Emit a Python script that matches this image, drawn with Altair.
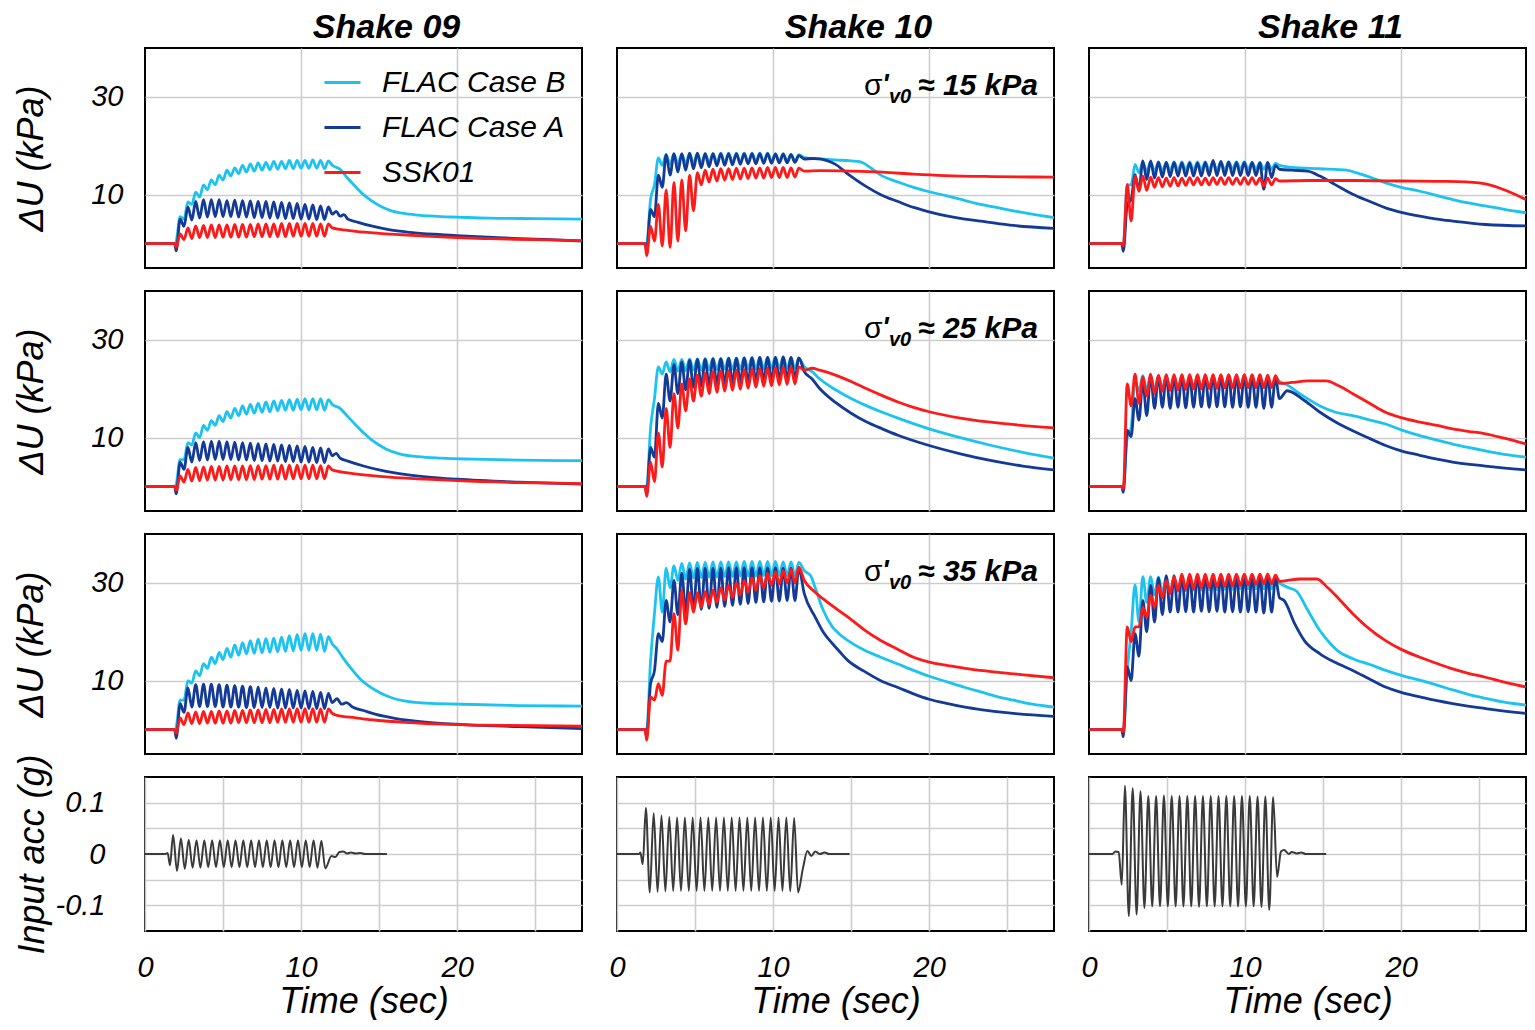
import altair as alt
import pandas as pd

FONT = "Liberation Sans"
GRID = "#cdcdcd"

SHAKES = ["Shake 09", "Shake 10", "Shake 11"]
STRESS_TEXT = ["≈ 15 kPa", "≈ 25 kPa", "≈ 35 kPa"]
SERIES = ["FLAC Case B", "FLAC Case A", "SSK01"]
COLORS = ["#1cc3f1", "#123a96", "#ff1a1a"]
ACC_COLOR = "#3a3a3a"

T_DOMAIN = [0, 28]
DU_DOMAIN = [-5, 40]
ACC_DOMAIN = [-0.15, 0.15]
DU_TICKS = [10, 30]
DU_XGRID = [10, 20]
ACC_TICKS = [-0.1, -0.05, 0, 0.05, 0.1]
ACC_XTICKS = [0, 5, 10, 15, 20, 25]

# time offsets of successive half-cycle extremes (20 cycles, 2 Hz)
OSC_DT = [0.0, 0.25, 0.5, 0.75, 1.0, 1.25, 1.5, 1.75, 2.0, 2.25,
          2.5, 2.75, 3.0, 3.25, 3.5, 3.75, 4.0, 4.25, 4.5, 4.75,
          5.0, 5.25, 5.5, 5.75, 6.0, 6.25, 6.5, 6.75, 7.0, 7.25,
          7.5, 7.75, 8.0, 8.25, 8.5, 8.75, 9.0, 9.25, 9.5, 9.75]
DU_START = [2.0, 1.9, 2.2]
ACC_START = [1.8, 1.85, 2.3]
DU_PRE = [[(0.0, 0.0), (1.9, 0.0)], [(0.0, 0.0), (1.8, 0.0)], [(0.0, 0.0), (2.1, 0.0)]]

# ---------------- Shake 09 ----------------
S09_15_B = dict(osc=[0.5, 5.5, 5.0, 8.5, 8.0, 10.5, 9.5, 12.0, 11.0, 13.0, 12.0, 14.0, 13.0, 15.0, 13.8, 15.5, 14.3, 16.0, 14.6, 16.3,
                     14.8, 16.5, 15.0, 16.6, 15.1, 16.8, 15.2, 16.8, 15.3, 17.0, 15.3, 17.0, 15.4, 17.0, 15.4, 17.1, 15.4, 17.0, 15.3, 16.9],
                post=[(12.0, 16.0), (12.5, 15.2), (13.0, 13.3), (13.5, 11.6), (14.0, 10.0), (14.5, 8.8), (15.0, 7.8), (15.7, 6.8),
                      (16.5, 6.2), (17.5, 5.8), (19.0, 5.5), (20.0, 5.4), (22.0, 5.2), (25.0, 5.1), (28.0, 5.0)])
S09_15_A = dict(osc=[-1.5, 5.0, 3.5, 7.5, 4.8, 8.6, 5.2, 9.0, 5.4, 9.0, 5.5, 9.0, 5.5, 8.8, 5.5, 8.9, 5.4, 8.8, 5.4, 8.7,
                     5.3, 8.6, 5.3, 8.6, 5.2, 8.5, 5.2, 8.4, 5.1, 8.3, 5.1, 8.2, 5.0, 8.0, 5.0, 7.9, 4.9, 7.7, 4.9, 7.5],
                post=[(12.0, 6.0), (12.25, 6.6), (12.5, 5.6), (12.75, 5.9), (13.0, 5.0), (13.6, 4.4), (14.5, 3.6), (15.7, 2.8),
                      (17.0, 2.3), (18.5, 1.9), (20.0, 1.6), (22.0, 1.3), (24.0, 1.0), (26.0, 0.8), (28.0, 0.5)])
S09_15_R = dict(osc=[-0.8, 2.0, 0.8, 3.2, 1.0, 3.6, 1.2, 3.7, 1.2, 3.8, 1.2, 3.8, 1.3, 3.8, 1.3, 3.9, 1.3, 3.9, 1.3, 3.9,
                     1.4, 4.0, 1.4, 4.0, 1.4, 4.0, 1.4, 4.1, 1.4, 4.1, 1.5, 4.1, 1.5, 4.1, 1.5, 4.1, 1.5, 4.0, 1.5, 4.0],
                post=[(12.0, 3.2), (12.5, 2.9), (13.5, 2.5), (15.0, 2.1), (16.5, 1.8), (18.0, 1.5), (20.0, 1.2), (22.0, 1.0),
                      (25.0, 0.8), (28.0, 0.6)])

S09_25_B = dict(osc=[0.5, 5.5, 5.5, 9.0, 8.5, 11.0, 10.0, 12.5, 11.5, 13.5, 12.5, 14.5, 13.3, 15.3, 14.0, 16.0, 14.5, 16.5, 14.8, 16.8,
                     15.0, 17.0, 15.2, 17.3, 15.3, 17.5, 15.5, 17.6, 15.6, 17.8, 15.6, 17.9, 15.7, 18.0, 15.7, 18.0, 15.7, 18.0, 15.6, 17.8],
                post=[(12.0, 16.8), (12.5, 16.0), (13.0, 14.3), (13.5, 12.6), (14.0, 11.0), (14.5, 9.6), (15.0, 8.5), (15.5, 7.6),
                      (16.3, 6.7), (17.5, 6.1), (19.0, 5.8), (21.0, 5.6), (24.0, 5.4), (28.0, 5.3)])
S09_25_A = dict(osc=[-1.5, 5.0, 3.5, 8.0, 5.0, 9.0, 5.3, 9.2, 5.4, 9.3, 5.5, 9.3, 5.5, 9.2, 5.5, 9.1, 5.4, 9.0, 5.4, 8.9,
                     5.3, 8.8, 5.3, 8.7, 5.2, 8.6, 5.2, 8.5, 5.1, 8.4, 5.1, 8.3, 5.0, 8.2, 5.0, 8.0, 4.9, 7.9, 4.9, 7.7],
                post=[(12.0, 6.3), (12.25, 6.8), (12.5, 5.8), (13.0, 5.2), (14.0, 4.2), (15.0, 3.4), (16.0, 2.8), (18.0, 2.0),
                      (20.0, 1.5), (24.0, 0.9), (28.0, 0.5)])
S09_25_R = dict(osc=[-0.8, 2.2, 0.9, 3.5, 1.1, 3.9, 1.2, 4.0, 1.3, 4.1, 1.3, 4.1, 1.3, 4.2, 1.4, 4.2, 1.4, 4.2, 1.4, 4.3,
                     1.4, 4.3, 1.5, 4.3, 1.5, 4.4, 1.5, 4.4, 1.5, 4.4, 1.6, 4.4, 1.6, 4.4, 1.6, 4.4, 1.6, 4.3, 1.6, 4.2],
                post=[(12.0, 3.4), (13.0, 2.8), (15.0, 2.1), (18.0, 1.5), (20.0, 1.2), (24.0, 0.8), (28.0, 0.6)])

S09_35_B = dict(osc=[0.5, 6.0, 6.0, 10.0, 9.5, 12.0, 11.0, 13.5, 12.5, 14.8, 13.5, 15.8, 14.3, 16.6, 14.8, 17.3, 15.2, 17.8, 15.5, 18.2,
                     15.6, 18.5, 15.7, 18.6, 15.8, 18.7, 15.9, 18.9, 16.0, 19.2, 16.1, 19.4, 16.2, 19.6, 16.2, 19.6, 16.2, 19.5, 16.0, 19.0],
                post=[(12.0, 17.5), (12.3, 16.5), (12.7, 14.6), (13.2, 12.5), (13.8, 10.3), (14.3, 9.0), (14.8, 8.0), (15.4, 7.0),
                      (15.9, 6.4), (16.9, 5.7), (18.0, 5.4), (20.1, 5.2), (24.0, 4.9), (28.0, 4.8)])
S09_35_A = dict(osc=[-1.8, 5.3, 3.5, 8.5, 4.6, 9.2, 4.7, 9.3, 4.7, 9.3, 4.7, 9.2, 4.6, 9.1, 4.6, 9.0, 4.6, 8.9, 4.5, 8.8,
                     4.5, 8.7, 4.5, 8.5, 4.5, 8.4, 4.4, 8.3, 4.4, 8.2, 4.4, 8.0, 4.4, 7.9, 4.3, 7.8, 4.3, 7.6, 4.3, 7.4],
                post=[(12.0, 5.5), (12.3, 6.3), (12.6, 5.2), (12.9, 5.5), (13.3, 4.6), (14.0, 3.9), (14.8, 3.1), (16.0, 2.3),
                      (18.0, 1.5), (21.0, 0.9), (24.0, 0.6), (28.0, 0.2)])
S09_35_R = dict(osc=[-0.8, 2.4, 1.0, 3.4, 1.2, 3.6, 1.2, 3.7, 1.3, 3.7, 1.3, 3.8, 1.3, 3.8, 1.3, 3.9, 1.4, 3.9, 1.4, 4.0,
                     1.4, 4.0, 1.4, 4.1, 1.4, 4.1, 1.5, 4.2, 1.5, 4.2, 1.5, 4.3, 1.5, 4.3, 1.5, 4.3, 1.5, 4.2, 1.5, 4.2],
                post=[(12.0, 3.3), (12.3, 2.9), (13.5, 2.4), (14.8, 1.9), (17.0, 1.4), (21.0, 0.9), (25.0, 0.8), (28.0, 0.7)])

# ---------------- Shake 10 ----------------
S10_15_B = dict(osc=[0.0, 9.0, 12.0, 17.5, 16.0, 18.2, 16.2, 18.3, 16.3, 18.3, 16.3, 18.4, 16.4, 18.4, 16.4, 18.4, 16.5, 18.4, 16.5, 18.5,
                     16.5, 18.5, 16.6, 18.5, 16.6, 18.5, 16.6, 18.5, 16.7, 18.5, 16.7, 18.5, 16.7, 18.4, 16.7, 18.4, 16.8, 18.3, 16.8, 18.2],
                post=[(12.0, 17.6), (13.0, 17.3), (14.0, 17.1), (15.0, 16.9), (15.6, 16.7), (16.2, 15.6), (16.9, 14.0), (18.0, 12.6),
                      (19.0, 11.5), (20.0, 10.6), (21.2, 9.7), (22.3, 8.8), (23.3, 8.0), (24.3, 7.4), (25.4, 6.7), (26.6, 6.0), (28.0, 5.3)])
S10_15_A = dict(osc=[-1.5, 7.0, 5.5, 14.0, 11.5, 18.2, 14.0, 18.4, 14.6, 18.4, 15.0, 18.5, 15.3, 18.5, 15.5, 18.4, 15.7, 18.4, 15.9, 18.4,
                     16.0, 18.4, 16.1, 18.4, 16.2, 18.4, 16.3, 18.4, 16.3, 18.4, 16.4, 18.4, 16.4, 18.3, 16.5, 18.3, 16.5, 18.2, 16.6, 18.0],
                post=[(12.0, 17.3), (12.5, 17.4), (13.0, 17.3), (13.5, 16.9), (14.0, 16.2), (14.8, 14.2), (15.9, 11.8), (16.9, 10.0),
                      (18.0, 8.6), (19.0, 7.4), (20.0, 6.5), (21.2, 5.6), (22.3, 5.0), (23.3, 4.6), (25.4, 3.7), (28.0, 3.1)])
S10_15_R = dict(osc=[-2.5, 3.5, 0.5, 8.0, -0.5, 11.0, -0.8, 12.5, 0.5, 13.0, 2.6, 14.0, 6.7, 14.5, 12.0, 15.0, 12.6, 15.2, 12.8, 15.3,
                     13.0, 15.3, 13.1, 15.4, 13.2, 15.4, 13.3, 15.5, 13.4, 15.5, 13.4, 15.6, 13.5, 15.6, 13.5, 15.6, 13.5, 15.5, 13.6, 15.4],
                post=[(12.0, 14.8), (13.0, 14.9), (15.0, 14.8), (17.0, 14.6), (19.0, 14.2), (21.0, 13.9), (24.0, 13.7), (28.0, 13.6)])

S10_25_B = dict(osc=[0.0, 12.0, 18.0, 24.5, 23.0, 25.5, 23.5, 26.0, 23.6, 26.0, 23.7, 26.1, 23.8, 26.1, 23.8, 26.2, 23.9, 26.2, 23.9, 26.2,
                     24.0, 26.3, 24.0, 26.3, 24.0, 26.3, 24.1, 26.4, 24.1, 26.4, 24.1, 26.4, 24.2, 26.4, 24.2, 26.4, 24.2, 26.3, 24.2, 26.2],
                post=[(12.0, 24.5), (12.5, 23.5), (13.0, 22.0), (14.0, 19.8), (15.0, 18.0), (16.0, 16.5), (17.0, 15.2), (18.0, 14.0),
                      (20.0, 11.8), (22.0, 10.0), (24.0, 8.4), (26.0, 7.0), (28.0, 5.8)])
S10_25_A = dict(osc=[-1.5, 8.0, 6.0, 17.0, 14.0, 23.0, 17.5, 25.0, 19.0, 25.5, 19.8, 25.8, 20.3, 26.0, 20.5, 26.0, 20.7, 26.1, 20.9, 26.1,
                     21.0, 26.2, 21.2, 26.2, 21.3, 26.3, 21.4, 26.3, 21.5, 26.4, 21.6, 26.4, 21.7, 26.4, 21.8, 26.5, 21.9, 26.4, 22.0, 26.3],
                post=[(12.0, 23.5), (12.5, 22.0), (13.0, 20.0), (14.0, 17.2), (15.0, 15.0), (16.0, 13.2), (17.0, 11.8), (18.0, 10.5),
                      (20.0, 8.4), (22.0, 6.7), (24.0, 5.3), (26.0, 4.2), (28.0, 3.4)])
S10_25_R = dict(osc=[-2.0, 5.0, 1.0, 11.0, 4.0, 16.0, 8.0, 19.0, 12.0, 21.0, 15.5, 22.0, 17.5, 22.8, 18.5, 23.2, 19.0, 23.5, 19.3, 23.6,
                     19.5, 23.7, 19.7, 23.8, 19.9, 23.9, 20.1, 24.0, 20.3, 24.1, 20.5, 24.2, 20.6, 24.3, 20.8, 24.4, 20.9, 24.5, 21.0, 24.5],
                post=[(12.0, 23.8), (12.5, 24.2), (13.0, 23.8), (14.0, 22.8), (15.0, 21.5), (16.0, 20.0), (17.0, 18.6), (18.0, 17.3),
                      (19.0, 16.2), (20.0, 15.3), (22.0, 14.0), (25.0, 12.8), (28.0, 12.0)])

S10_35_B = dict(osc=[0.0, 14.0, 23.7, 31.2, 24.0, 33.0, 29.0, 33.5, 30.5, 34.0, 30.8, 34.1, 31.0, 34.2, 31.1, 34.2, 31.2, 34.3, 31.2, 34.3,
                     31.3, 34.3, 31.3, 34.3, 31.4, 34.4, 31.4, 34.4, 31.4, 34.4, 31.5, 34.4, 31.5, 34.4, 31.5, 34.3, 31.5, 34.3, 31.5, 34.2],
                post=[(12.0, 32.5), (12.4, 31.5), (12.7, 29.0), (13.2, 24.5), (13.8, 21.0), (14.3, 19.4), (14.8, 18.2), (15.8, 16.3),
                      (16.9, 14.8), (18.0, 13.4), (19.0, 12.1), (20.0, 10.9), (21.2, 9.7), (22.3, 8.6), (23.3, 7.7), (24.3, 6.8),
                      (25.4, 6.0), (26.6, 5.2), (28.0, 4.6)])
S10_35_A = dict(osc=[-1.5, 9.4, 12.0, 19.6, 18.0, 26.4, 22.0, 30.5, 23.5, 32.0, 24.0, 32.8, 24.4, 33.0, 24.6, 33.0, 24.8, 33.0, 25.0, 33.0,
                     25.2, 33.1, 25.4, 33.1, 25.6, 33.1, 25.8, 33.1, 26.0, 33.1, 26.1, 33.1, 26.2, 33.1, 26.3, 33.0, 26.4, 33.0, 26.4, 32.9],
                post=[(12.0, 27.8), (12.7, 23.0), (13.2, 20.0), (13.8, 17.6), (14.3, 15.8), (14.8, 14.1), (15.8, 12.0), (16.9, 10.0),
                      (18.0, 8.6), (19.0, 7.3), (20.0, 6.2), (21.2, 5.3), (22.3, 4.6), (23.3, 4.1), (25.4, 3.3), (28.0, 2.7)])
S10_35_R = dict(osc=[-2.2, 6.7, 6.0, 9.4, 7.0, 14.0, 14.0, 23.7, 16.2, 28.4, 21.6, 28.0, 24.0, 28.0, 25.0, 28.2, 25.5, 28.5, 26.0, 29.0,
                     26.5, 29.5, 27.0, 30.0, 27.5, 30.5, 28.0, 31.0, 28.5, 31.5, 29.0, 32.0, 29.5, 32.3, 29.8, 32.5, 30.0, 32.8, 30.0, 33.2],
                post=[(12.0, 30.5), (12.7, 28.1), (13.5, 26.0), (14.8, 23.0), (15.8, 20.5), (16.9, 18.2), (18.0, 16.4), (19.0, 14.8),
                      (20.0, 13.8), (21.2, 13.1), (22.3, 12.5), (23.3, 12.1), (25.4, 11.4), (28.0, 10.6)])

# ---------------- Shake 11 ----------------
S11_15_B = dict(osc=[0.0, 12.0, 12.0, 16.2, 14.5, 16.5, 14.8, 16.6, 14.8, 16.6, 14.9, 16.6, 14.9, 16.7, 15.0, 16.7, 15.0, 16.7, 15.0, 16.7,
                     15.1, 16.7, 15.1, 16.7, 15.1, 16.7, 15.1, 16.7, 15.2, 16.7, 15.2, 16.7, 15.2, 16.6, 15.2, 16.6, 15.2, 16.5, 15.2, 16.4],
                post=[(12.2, 16.0), (13.0, 15.6), (14.8, 15.3), (16.5, 15.0), (17.2, 14.4), (18.0, 13.6), (19.0, 12.4), (20.0, 11.5),
                      (21.2, 10.7), (22.3, 9.8), (23.3, 9.0), (24.3, 8.3), (25.4, 7.7), (26.6, 7.0), (28.0, 6.3)])
S11_15_A = dict(osc=[-1.6, 8.0, 9.0, 14.1, 11.0, 16.9, 13.1, 16.9, 13.4, 16.7, 13.6, 16.6, 13.7, 16.6, 13.8, 16.5, 13.8, 16.5, 13.8, 16.5,
                     13.8, 16.6, 13.9, 17.0, 13.9, 16.8, 13.9, 16.7, 13.9, 16.6, 13.9, 16.6, 13.9, 16.6, 13.9, 16.5, 11.1, 16.6, 13.5, 16.0],
                post=[(12.2, 15.2), (13.0, 15.0), (14.0, 14.8), (14.8, 13.8), (15.8, 12.0), (16.9, 10.1), (18.0, 8.6), (19.0, 7.3),
                      (20.0, 6.4), (21.2, 5.6), (22.3, 5.0), (23.3, 4.6), (25.4, 3.9), (28.0, 3.6)])
S11_15_R = dict(osc=[-0.5, 12.1, 4.6, 13.8, 10.7, 13.8, 10.9, 13.6, 11.5, 13.5, 11.6, 13.4, 11.7, 13.5, 11.8, 13.4, 11.9, 13.5, 12.0, 13.5,
                     12.0, 13.4, 12.0, 13.5, 12.1, 13.5, 12.1, 13.5, 12.1, 13.4, 12.1, 13.5, 12.1, 13.5, 12.1, 13.4, 11.8, 13.4, 12.0, 13.3],
                post=[(12.2, 12.8), (14.0, 12.9), (17.0, 12.9), (20.0, 12.8), (23.0, 12.7), (25.0, 12.4), (26.0, 11.7), (26.5, 11.1),
                      (27.2, 10.2), (28.0, 9.0)])

S11_25_B = dict(osc=[0.0, 10.0, 12.0, 21.6, 19.6, 22.7, 19.8, 22.5, 19.9, 22.5, 20.0, 22.5, 20.0, 22.5, 20.0, 22.6, 20.1, 22.6, 20.1, 22.6,
                     20.1, 22.6, 20.1, 22.6, 20.2, 22.6, 20.2, 22.6, 20.2, 22.6, 20.2, 22.6, 20.2, 22.5, 20.2, 22.5, 20.2, 22.4, 20.2, 22.3],
                post=[(12.2, 21.5), (12.7, 20.8), (13.5, 19.0), (14.8, 16.5), (15.8, 15.2), (16.9, 14.5), (18.0, 13.6), (19.0, 12.8),
                      (20.0, 11.6), (21.2, 10.4), (22.3, 9.5), (23.3, 8.7), (24.3, 8.0), (25.4, 7.3), (26.6, 6.6), (28.0, 6.0)])
S11_25_A = dict(osc=[-1.2, 11.5, 10.2, 18.0, 13.6, 21.5, 14.5, 22.7, 16.0, 22.6, 16.2, 22.7, 16.0, 22.6, 16.2, 22.7, 16.1, 22.6, 16.2, 22.7,
                     16.3, 22.7, 16.2, 22.8, 16.3, 22.7, 16.3, 22.8, 16.2, 22.7, 16.3, 22.8, 16.2, 22.7, 16.2, 22.8, 16.0, 22.6, 16.2, 22.4],
                post=[(12.2, 18.0), (12.7, 19.6), (13.8, 17.6), (14.8, 15.2), (15.8, 13.2), (16.9, 11.4), (18.0, 9.8), (19.0, 8.4),
                      (20.0, 7.3), (21.2, 6.4), (22.3, 5.6), (23.3, 5.0), (25.4, 4.2), (28.0, 3.4)])
S11_25_R = dict(osc=[-0.5, 21.0, 16.5, 23.0, 17.0, 22.5, 18.5, 23.0, 19.0, 22.8, 19.5, 22.9, 19.7, 22.9, 19.8, 22.9, 19.9, 22.9, 20.0, 22.9,
                     20.0, 22.9, 20.1, 22.9, 20.1, 22.9, 20.2, 22.9, 20.2, 22.9, 20.2, 22.9, 20.3, 22.9, 20.3, 22.9, 20.3, 22.8, 20.3, 22.7],
                post=[(12.2, 21.1), (13.0, 21.3), (14.0, 21.6), (15.2, 21.6), (16.0, 20.6), (16.9, 19.0), (18.0, 17.0), (19.0, 15.2),
                      (20.0, 14.1), (21.2, 13.2), (22.3, 12.5), (23.3, 11.8), (24.3, 11.3), (25.4, 10.8), (26.6, 9.9), (28.0, 8.7)])

S11_35_B = dict(osc=[0.0, 12.0, 20.0, 29.6, 22.0, 31.3, 26.0, 31.3, 27.5, 31.2, 28.0, 31.1, 28.2, 31.1, 28.3, 31.1, 28.4, 31.1, 28.5, 31.1,
                     28.5, 31.1, 28.6, 31.1, 28.6, 31.1, 28.7, 31.1, 28.7, 31.1, 28.8, 31.1, 28.8, 31.0, 28.8, 31.0, 28.8, 31.0, 28.8, 30.8],
                post=[(12.2, 30.0), (12.8, 29.0), (13.3, 28.3), (14.0, 24.5), (14.8, 20.2), (15.4, 17.8), (15.9, 16.2), (16.9, 14.5),
                      (18.0, 13.3), (19.0, 12.1), (20.0, 11.1), (21.2, 10.1), (22.3, 9.1), (23.3, 8.1), (24.3, 7.2), (25.4, 6.4),
                      (26.6, 5.6), (28.0, 5.0)])
S11_35_A = dict(osc=[-1.5, 12.8, 10.0, 19.6, 15.0, 26.4, 20.0, 29.5, 22.0, 31.0, 23.5, 31.5, 24.0, 31.5, 24.0, 31.5, 24.1, 31.5, 24.0, 31.5,
                     24.2, 31.6, 24.1, 31.5, 24.2, 31.6, 24.0, 31.5, 24.1, 31.5, 24.0, 31.5, 24.1, 31.4, 24.0, 31.4, 23.8, 31.3, 24.0, 31.0],
                post=[(12.2, 27.0), (12.5, 26.4), (13.2, 21.5), (13.8, 18.2), (14.8, 15.5), (15.8, 13.7), (16.9, 12.1), (18.0, 10.3),
                      (19.0, 8.7), (20.0, 7.6), (21.2, 6.7), (22.3, 5.9), (23.3, 5.3), (25.4, 4.3), (28.0, 3.3)])
S11_35_R = dict(osc=[-0.5, 21.0, 18.0, 21.0, 21.0, 25.0, 23.0, 27.5, 25.0, 29.5, 27.0, 30.5, 27.8, 31.3, 28.5, 31.8, 28.7, 31.8, 28.8, 31.8,
                     29.0, 31.8, 29.1, 31.8, 29.2, 31.8, 29.3, 31.8, 29.4, 31.8, 29.5, 31.8, 29.6, 31.8, 29.7, 31.8, 29.8, 31.8, 29.8, 31.6],
                post=[(12.2, 30.3), (12.7, 30.5), (13.5, 30.8), (14.6, 30.8), (15.3, 29.0), (15.9, 27.1), (16.9, 23.7), (18.0, 20.5),
                      (19.0, 18.2), (20.0, 16.4), (21.2, 14.8), (22.3, 13.5), (23.3, 12.4), (24.3, 11.5), (25.4, 10.7), (26.6, 9.7),
                      (28.0, 8.7)])

# ---------------- input accelerations ----------------
ACC09 = dict(pre=[(0.0, 0.0), (1.3, 0.0), (1.45, 0.002), (1.6, -0.022)],
             osc=[0.037, -0.033, 0.030, -0.029, 0.028, -0.027, 0.027, -0.027, 0.027, -0.026, 0.027, -0.026, 0.027, -0.026,
                  0.027, -0.026, 0.027, -0.026, 0.027, -0.026, 0.027, -0.026, 0.027, -0.026, 0.027, -0.026, 0.027, -0.026,
                  0.027, -0.026, 0.027, -0.026, 0.027, -0.026, 0.027, -0.026, 0.027, -0.027, 0.026, -0.028],
             post=[(11.95, -0.004), (12.2, -0.006), (12.45, 0.004), (12.7, 0.005), (12.95, 0.001), (13.2, 0.003),
                   (13.5, 0.001), (13.8, 0.002), (14.1, 0.0), (15.5, 0.0)])
ACC10 = dict(pre=[(0.0, 0.0), (1.4, 0.0), (1.5, 0.003), (1.65, -0.02)],
             osc=[0.090, -0.075, 0.080, -0.074, 0.075, -0.073, 0.072, -0.072, 0.071, -0.072, 0.071, -0.072, 0.071, -0.072,
                  0.071, -0.072, 0.071, -0.072, 0.071, -0.072, 0.071, -0.072, 0.071, -0.072, 0.071, -0.072, 0.071, -0.072,
                  0.071, -0.072, 0.071, -0.072, 0.071, -0.072, 0.071, -0.072, 0.071, -0.073, 0.070, -0.075],
             post=[(11.9, -0.03), (12.2, 0.006), (12.45, -0.004), (12.7, 0.005), (13.0, 0.0), (13.3, 0.003), (13.6, 0.0),
                   (14.9, 0.0)])
ACC11 = dict(pre=[(0.0, 0.0), (1.5, 0.0), (1.7, 0.005), (1.9, 0.004), (2.1, -0.06)],
             osc=[0.133, -0.121, 0.128, -0.118, 0.122, -0.105, 0.113, -0.102, 0.113, -0.102, 0.114, -0.102, 0.113, -0.102,
                  0.113, -0.102, 0.113, -0.102, 0.113, -0.103, 0.113, -0.102, 0.113, -0.102, 0.113, -0.102, 0.113, -0.102,
                  0.113, -0.102, 0.113, -0.102, 0.113, -0.102, 0.112, -0.103, 0.112, -0.109, 0.111, -0.045],
             post=[(12.3, 0.005), (12.5, 0.008), (12.8, 0.0), (13.0, 0.004), (13.3, 0.001), (13.6, 0.003), (13.9, 0.0),
                   (15.2, 0.0)])

DU_PANELS = [
    [(S09_15_B, S09_15_A, S09_15_R), (S10_15_B, S10_15_A, S10_15_R), (S11_15_B, S11_15_A, S11_15_R)],
    [(S09_25_B, S09_25_A, S09_25_R), (S10_25_B, S10_25_A, S10_25_R), (S11_25_B, S11_25_A, S11_25_R)],
    [(S09_35_B, S09_35_A, S09_35_R), (S10_35_B, S10_35_A, S10_35_R), (S11_35_B, S11_35_A, S11_35_R)],
]
ACC_PANELS = [ACC09, ACC10, ACC11]

PW, PH, PH_ACC = 437, 220, 154

tscale = alt.Scale(domain=T_DOMAIN, nice=False, zero=False)
duscale = alt.Scale(domain=DU_DOMAIN, nice=False, zero=False)
accscale = alt.Scale(domain=ACC_DOMAIN, nice=False, zero=False)
cscale = alt.Scale(domain=SERIES, range=COLORS)

TXT = dict(labelFont=FONT, labelColor="black", labelFontStyle="italic", labelFontSize=29,
           titleFont=FONT, titleColor="black", titleFontStyle="italic", titleFontWeight="normal", titleFontSize=36)
GRIDKW = dict(grid=True, gridColor=GRID, gridWidth=1.6, ticks=False, domain=False)
BARE = dict(title=None, labels=False, minExtent=0, **GRIDKW)


def build_points(pre, osc, start, post):
    pts = list(pre) + [(start + dt, v) for dt, v in zip(OSC_DT, osc)] + list(post)
    return pd.DataFrame({"t": [p[0] for p in pts], "v": [p[1] for p in pts], "i": list(range(len(pts)))})


def du_panel(r, c):
    if c == 0:
        yaxis = alt.Axis(values=DU_TICKS, title="ΔU (kPa)", labelPadding=22, titlePadding=40, **GRIDKW, **TXT)
    else:
        yaxis = alt.Axis(values=DU_TICKS, **BARE)
    xaxis = alt.Axis(values=DU_XGRID, **BARE)
    if r == 0 and c == 0:
        legend = alt.Legend(title=None, orient="none", legendX=178, legendY=15, symbolType="stroke",
                            symbolSize=1300, symbolStrokeWidth=2.8, labelFont=FONT, labelFontSize=30,
                            labelFontStyle="italic", labelColor="black", labelLimit=500, labelOffset=20,
                            rowPadding=10, padding=0)
    else:
        legend = None
    layers = []
    for name, s in zip(SERIES, DU_PANELS[r][c]):
        df = build_points(DU_PRE[c], s["osc"], DU_START[c], s["post"])
        df["series"] = name
        layers.append(
            alt.Chart(df).mark_line(strokeWidth=2.8, clip=True, interpolate="monotone").encode(
                x=alt.X("t:Q", scale=tscale, axis=xaxis),
                y=alt.Y("v:Q", scale=duscale, axis=yaxis),
                color=alt.Color("series:N", scale=cscale, legend=legend),
                order="i:Q",
            )
        )
    if c == 1:
        ann = pd.DataFrame({"sig": ["σ"], "pr": ["'"], "sub": ["v0"], "rest": [STRESS_TEXT[r]]})
        base = alt.Chart(ann)
        layers += [
            base.mark_text(align="left", baseline="alphabetic", font=FONT, fontSize=30, color="black").encode(
                x=alt.value(247), y=alt.value(47), text="sig:N"),
            base.mark_text(align="left", baseline="alphabetic", font=FONT, fontSize=28, fontWeight="bold",
                           fontStyle="italic", color="black").encode(x=alt.value(265), y=alt.value(45), text="pr:N"),
            base.mark_text(align="left", baseline="alphabetic", font=FONT, fontSize=20, fontWeight="bold",
                           fontStyle="italic", color="black").encode(x=alt.value(272), y=alt.value(55), text="sub:N"),
            base.mark_text(align="right", baseline="alphabetic", font=FONT, fontSize=30, fontWeight="bold",
                           fontStyle="italic", color="black").encode(x=alt.value(421), y=alt.value(47), text="rest:N"),
        ]
    ch = alt.layer(*layers).properties(width=PW, height=PH)
    if r == 0:
        ch = ch.properties(title=alt.TitleParams(SHAKES[c], font=FONT, fontSize=34, fontWeight="bold",
                                                 fontStyle="italic", color="black", dx=23, offset=3))
    return ch


def acc_panel(c):
    if c == 0:
        yaxis = alt.Axis(values=ACC_TICKS, title="Input acc (g)", labelPadding=40, titlePadding=4,
                         labelExpr="abs(datum.value) < 0.07 && datum.value != 0 ? '' : (datum.value < 0 ? '-' : '') + format(abs(datum.value), '.1~f')",
                         **GRIDKW, **TXT)
    else:
        yaxis = alt.Axis(values=ACC_TICKS, **BARE)
    xaxis = alt.Axis(values=ACC_XTICKS, title="Time (sec)", labelExpr="datum.value % 10 == 0 ? datum.label : ''",
                     labelPadding=22, titlePadding=2, labelFlush=False, labelOverlap=False, **GRIDKW, **TXT)
    a = ACC_PANELS[c]
    df = build_points(a["pre"], a["osc"], ACC_START[c], a["post"])
    return alt.Chart(df).mark_line(strokeWidth=2, color=ACC_COLOR, clip=True, interpolate="monotone").encode(
        x=alt.X("t:Q", scale=tscale, axis=xaxis),
        y=alt.Y("v:Q", scale=accscale, axis=yaxis),
        order="i:Q",
    ).properties(width=PW, height=PH_ACC)


panels = [du_panel(r, c) for r in range(3) for c in range(3)] + [acc_panel(c) for c in range(3)]

chart = alt.concat(*panels, columns=3, spacing={"row": 23, "column": 35}, align="all", bounds="flush").resolve_scale(
    x="independent", y="independent", color="independent"
).resolve_legend(color="independent").configure_view(
    stroke="black", strokeWidth=2
).properties(
    padding={"left": 4, "top": 2, "right": 0, "bottom": 0}, background="white"
)

chart.save("out.html", embed_options={"renderer": "svg", "actions": False})
